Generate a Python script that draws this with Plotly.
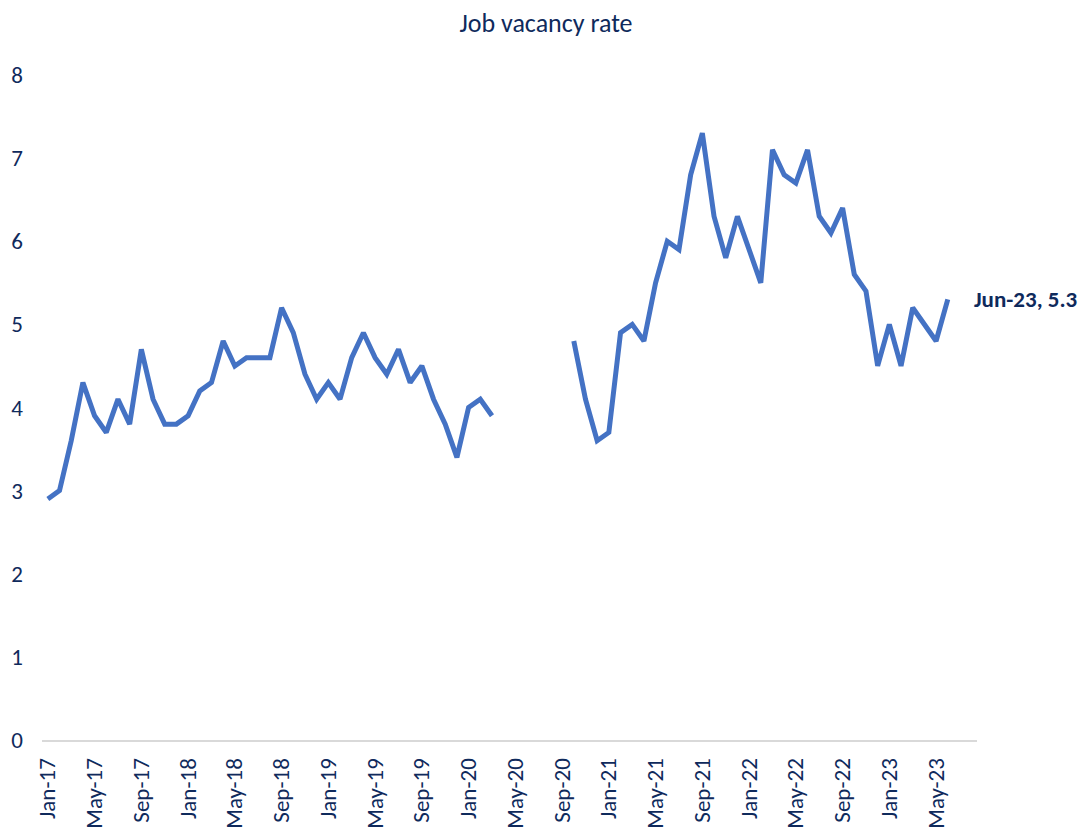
import pandas as pd
import plotly.graph_objects as go

# monthly categories Jan-17 .. Aug-23 (axis runs a little past the last data point)
months = [d.strftime('%b-%y') for d in pd.date_range('2017-01-01', '2023-08-01', freq='MS')]

# job vacancy rate, Jan-17 .. Mar-20
rate_pre = [2.9, 3.0, 3.6, 4.3, 3.9, 3.7, 4.1, 3.8, 4.7, 4.1, 3.8, 3.8,
            3.9, 4.2, 4.3, 4.8, 4.5, 4.6, 4.6, 4.6, 5.2, 4.9, 4.4, 4.1,
            4.3, 4.1, 4.6, 4.9, 4.6, 4.4, 4.7, 4.3, 4.5, 4.1, 3.8, 3.4,
            4.0, 4.1, 3.9]
# no data Apr-20 .. Sep-20
rate_gap = [None] * 6
# Oct-20 .. Jun-23
rate_post = [4.8, 4.1, 3.6,
             3.7, 4.9, 5.0, 4.8, 5.5, 6.0, 5.9, 6.8, 7.3, 6.3, 5.8, 6.3,
             5.9, 5.5, 7.1, 6.8, 6.7, 7.1, 6.3, 6.1, 6.4, 5.6, 5.4, 4.5,
             5.0, 4.5, 5.2, 5.0, 4.8, 5.3]
rate_tail = [None] * 2  # Jul-23, Aug-23 empty

rate = rate_pre + rate_gap + rate_post + rate_tail

tick_labels = months[::4]
y_ticks = [0, 1, 2, 3, 4, 5, 6, 7, 8]

chart_title = 'Job vacancy rate'
last_label = 'Jun-23'
last_value = rate_post[-1]

navy = '#0F2A5C'
font_family = 'Calibri, Carlito, Lato, sans-serif'

fig = go.Figure()
fig.add_trace(go.Scatter(x=months, y=rate, mode='lines', connectgaps=False,
                         line=dict(color='#4472C4', width=5), hoverinfo='x+y'))

fig.add_annotation(x=last_label, y=last_value, text=f'<b>{last_label}, {last_value}</b>',
                   showarrow=False, xanchor='left', xshift=24,
                   font=dict(size=23, color=navy, family=font_family))

# page body adds 8px offset, margins compensate for it
fig.update_layout(
    width=1089, height=832,
    plot_bgcolor='white', paper_bgcolor='white',
    margin=dict(l=34, r=120, t=67, b=100, autoexpand=False),
    showlegend=False,
    font=dict(family=font_family, color=navy, size=23),
    title=dict(text=chart_title, x=538 / 1089, xref='container', xanchor='center',
               y=1 - 15 / 832, yref='container', yanchor='middle',
               font=dict(size=26, color=navy, family=font_family)),
)
fig.update_xaxes(type='category', categoryorder='array', categoryarray=months,
                 range=[-0.5, len(months) - 0.5],
                 tickmode='array', tickvals=tick_labels, ticktext=tick_labels,
                 tickangle=-90, showgrid=False, showline=True, linecolor='#D9D9D9',
                 linewidth=2, ticks='', ticklabelstandoff=7, automargin=False,
                 tickfont=dict(size=23, color=navy), zeroline=False)
fig.update_yaxes(range=[0, 8], tickvals=y_ticks, showgrid=False, showline=False,
                 zeroline=False, ticks='', ticklabelstandoff=18, automargin=False,
                 tickfont=dict(size=23, color=navy))

fig.write_html("out.html")
